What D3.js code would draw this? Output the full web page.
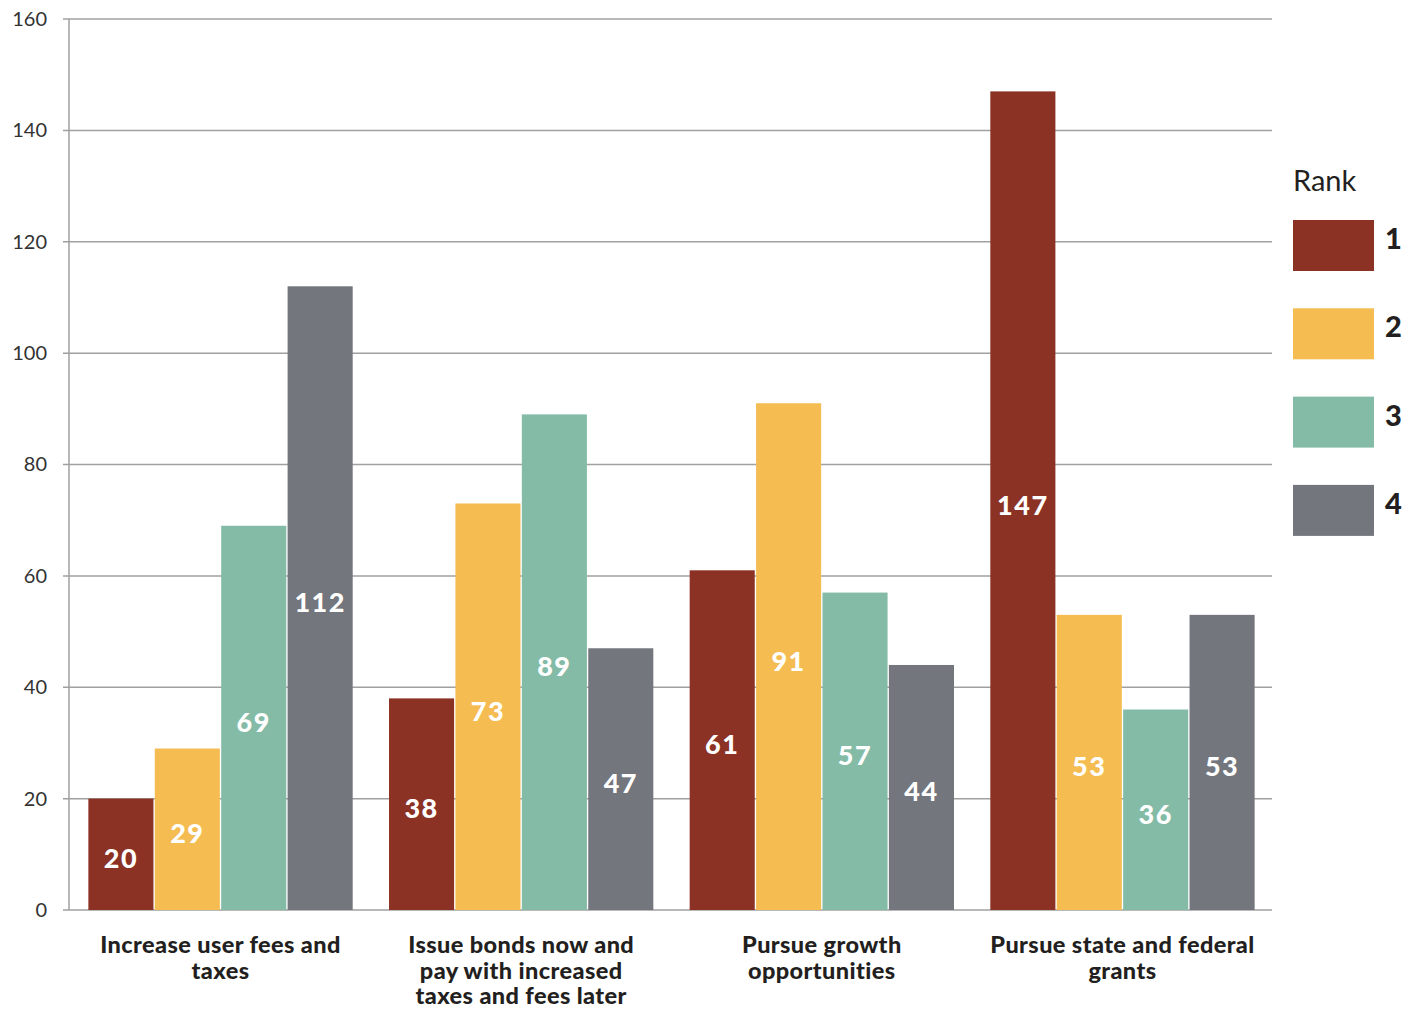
<!DOCTYPE html>
<html>
<head>
<meta charset="utf-8">
<script src="https://cdn.jsdelivr.net/npm/d3@7"></script>
<style>
  body { margin: 0; background: #fff; }
  svg { display: block; }
  .tick text { font-family: Lato, sans-serif; font-size: 20px; fill: #333; }
</style>
</head>
<body>
<svg id="chart" width="1416" height="1010"></svg>
<script>
// values
const categories = [
    ["Increase user fees and", "taxes"],
    ["Issue bonds now and", "pay with increased", "taxes and fees later"],
    ["Pursue growth", "opportunities"],
    ["Pursue state and federal", "grants"],
];
const ranks = ["1", "2", "3", "4"];
const rank1 = [20, 38, 61, 147];
const rank2 = [29, 73, 91, 53];
const rank3 = [69, 89, 57, 36];
const rank4 = [112, 47, 44, 53];
const yTicks = [0, 20, 40, 60, 80, 100, 120, 140, 160];
const colors = ["#8b3224", "#f5bc52", "#84bba7", "#73767d"];

const series = [rank1, rank2, rank3, rank4];

const svg = d3.select("#chart");
const margin = { left: 69, right: 142, top: 19, bottom: 100 };
const width = 1416, height = 1010;

const x0 = d3.scaleBand()
    .domain(d3.range(categories.length))
    .range([margin.left, width - margin.right])
    .paddingInner(0.112)
    .paddingOuter(0.06);

const x1 = d3.scaleBand()
    .domain(d3.range(ranks.length))
    .range([0, x0.bandwidth()])
    .padding(0.02);

const y = d3.scaleLinear()
    .domain([0, 160])
    .range([height - margin.bottom, margin.top]);

// grid
svg.append("g")
    .selectAll("line")
    .data(yTicks)
    .join("line")
    .attr("x1", margin.left - 6)
    .attr("x2", 1272)
    .attr("y1", (d) => y(d))
    .attr("y2", (d) => y(d))
    .style("stroke", "#a0a0a0")
    .style("stroke-width", 1.5);

// y axis labels
const yAxis = svg.append("g")
    .attr("transform", `translate(${margin.left - 22},0)`)
    .call(d3.axisLeft(y).tickValues(yTicks).tickSize(0).tickPadding(0));
yAxis.select(".domain").remove();

svg.append("line")
    .attr("x1", margin.left)
    .attr("x2", margin.left)
    .attr("y1", y(160))
    .attr("y2", y(0))
    .style("stroke", "#a0a0a0")
    .style("stroke-width", 1.5);

// bars
const groups = svg.append("g")
    .selectAll("g")
    .data(categories)
    .join("g")
    .attr("transform", (d, i) => `translate(${x0(i)},0)`);

groups.each(function (cat, ci) {
    const g = d3.select(this);
    const vals = series.map((s) => s[ci]);
    g.selectAll("rect")
        .data(vals)
        .join("rect")
        .attr("x", (d, ri) => x1(ri))
        .attr("width", x1.bandwidth())
        .attr("y", (d) => y(d))
        .attr("height", (d) => y(0) - y(d))
        .attr("fill", (d, ri) => colors[ri]);

    g.selectAll("text")
        .data(vals)
        .join("text")
        .attr("x", (d, ri) => x1(ri) + x1.bandwidth() / 2)
        .attr("y", (d) => y(d / 2) + 14)
        .attr("text-anchor", "middle")
        .style("font-family", "Lato, sans-serif")
        .style("font-weight", 900)
        .style("font-size", "27px")
        .style("letter-spacing", "1.5px")
        .style("fill", "#fff")
        .text((d) => d);
});

// category labels
svg.append("g")
    .selectAll("text")
    .data(categories)
    .join("text")
    .attr("x", (d, i) => x0(i) + x0.bandwidth() / 2)
    .attr("y", 953)
    .attr("text-anchor", "middle")
    .style("font-family", "Lato, sans-serif")
    .style("font-weight", 900)
    .style("font-size", "23.5px")
    .style("letter-spacing", "0.4px")
    .style("fill", "#231f20")
    .each(function (lines) {
        d3.select(this)
            .selectAll("tspan")
            .data(lines)
            .join("tspan")
            .attr("x", d3.select(this).attr("x"))
            .attr("dy", (d, i) => (i === 0 ? 0 : 25.5))
            .text((d) => d);
    });

// legend
const legend = svg.append("g").attr("transform", "translate(1293,0)");
legend.append("text")
    .attr("x", 0)
    .attr("y", 191)
    .style("font-family", "Lato, sans-serif")
    .style("font-size", "29px")
    .style("fill", "#231f20")
    .text("Rank");

const item = legend.selectAll("g.item")
    .data(ranks)
    .join("g")
    .attr("class", "item")
    .attr("transform", (d, i) => `translate(0,${220 + i * 88.3})`);

item.append("rect")
    .attr("width", 81)
    .attr("height", 51)
    .attr("fill", (d, i) => colors[i]);

item.append("text")
    .attr("x", 92)
    .attr("y", 29)
    .style("font-family", "Lato, sans-serif")
    .style("font-weight", 900)
    .style("font-size", "29px")
    .style("fill", "#231f20")
    .text((d) => d);
</script>
</body>
</html>
